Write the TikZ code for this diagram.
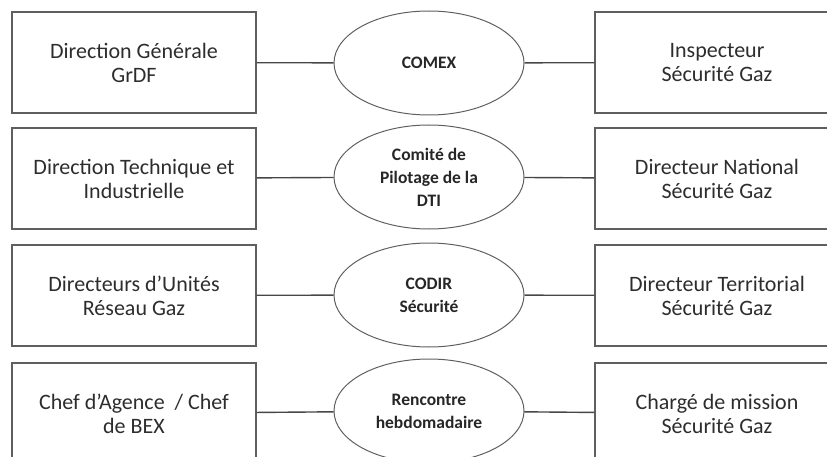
\documentclass[tikz,border=0pt]{standalone}
\usepackage{fontspec}
\setmainfont{Carlito}
\usetikzlibrary{
	positioning,
	shapes.geometric
}
\definecolor{BoxGray}{RGB}{95,95,95}
\definecolor{LinkGray}{RGB}{70,70,70}
\definecolor{TextGray}{RGB}{45,45,45}

\tikzset{
	rolebox/.style={
		draw=BoxGray,
		line width=1.1pt,
		minimum width=244pt,
		minimum height=101pt,
		align=center,
		text=TextGray,
		font=\fontsize{22}{24}\selectfont
	},
	meeting/.style={
		ellipse,
		draw=BoxGray,
		line width=1pt,
		minimum width=190pt,
		minimum height=104pt,
		inner sep=0pt,
		align=center,
		text=black!85,
		font=\bfseries\fontsize{17.5}{23}\selectfont
	},
	link/.style={
		LinkGray,
		line width=1.4pt
	}
}

\begin{document}
\begin{tikzpicture}[x=1pt,y=-1pt]
				
				\useasboundingbox
				(0,0) rectangle (827,457);
				
				% Left column
				\node[rolebox] (dg) at (134,62.5)
				{Direction Générale\\GrDF};
				
				\node[rolebox] (dti) at (134,178.5)
				{Direction Technique et\\Industrielle};
				
				\node[rolebox] (du) at (134,295.5)
				{Directeurs d’Unités\\Réseau Gaz};
				
				\node[rolebox] (agence) at (134,413.5)
				{Chef d’Agence~ / Chef\\de BEX};
				
				% Meetings
				\node[meeting] (comex) at (429,63)
				{COMEX};
				
				\node[meeting] (copil) at (429,177)
				{Comité de\\Pilotage de la\\DTI};
				
				\node[meeting] (codir) at (429,295)
				{CODIR\\Sécurité};
				
				\node[meeting] (hebdo) at (429,411)
				{Rencontre\\hebdomadaire};
				
				% Right column
				\node[rolebox] (insp) at (717,62.5)
				{Inspecteur\\Sécurité Gaz};
				
				\node[rolebox] (dn) at (717,178.5)
				{Directeur National\\Sécurité Gaz};
				
				\node[rolebox] (dt) at (717,295.5)
				{Directeur Territorial\\Sécurité Gaz};
				
				\node[rolebox] (mission) at (717,413.5)
				{Chargé de mission\\Sécurité Gaz};
				
				% Connections
				\draw[link] (dg) -- (comex) -- (insp);
				
				\draw[link] (dti) -- (copil) -- (dn);
				
				\draw[link] (du) -- (codir) -- (dt);
				
				\draw[link] (agence) -- (hebdo) -- (mission);
				
			\end{tikzpicture}
\end{document}
